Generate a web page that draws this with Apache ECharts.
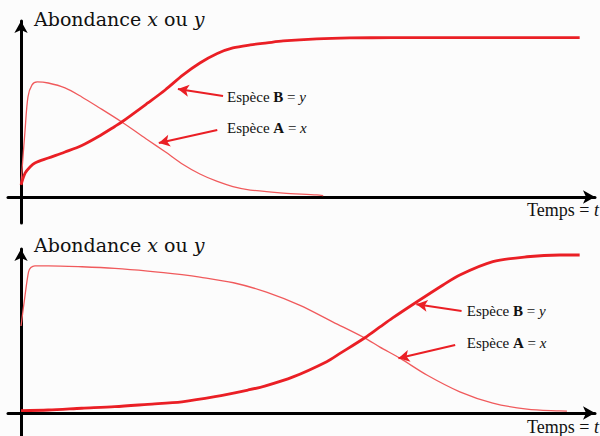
<!DOCTYPE html>
<html><head><meta charset="utf-8">
<script src="https://cdn.jsdelivr.net/npm/echarts@6/dist/echarts.min.js"></script>
<style>html,body{margin:0;padding:0;background:#fcfcfc}#c{width:600px;height:436px}</style>
</head><body><div id="c"></div>
<script>
// ---- Panneau du haut ----
const topTimeB = [0, 0.7, 1.55, 2.4, 4.7, 7.6, 10.5, 13.3, 16.2, 17.4, 21.9, 24.9, 28.0, 30.9, 33.9, 36.6, 39.6, 42.5, 45.3, 51.1, 56.8, 64.2, 96.5];
const topB     = [0.076, 0.151, 0.189, 0.215, 0.246, 0.284, 0.325, 0.380, 0.445, 0.473, 0.593, 0.675, 0.770, 0.845, 0.905, 0.940, 0.959, 0.972, 0.984, 0.997, 1.003, 1.005, 1.005];
const topTimeA = [0, 0.7, 1.2, 1.9, 2.8, 4.7, 7.6, 10.5, 13.3, 17.4, 21.9, 24.9, 28.0, 30.9, 33.9, 36.6, 39.6, 45.3, 51.1, 52.2];
const topA     = [0.088, 0.423, 0.631, 0.707, 0.726, 0.719, 0.688, 0.631, 0.568, 0.473, 0.360, 0.285, 0.205, 0.145, 0.098, 0.066, 0.044, 0.025, 0.013, 0.008];

// ---- Panneau du bas ----
const botTimeA = [0, 0.7, 1.3, 1.7, 2.4, 4.7, 10.5, 16.2, 21.9, 27.8, 30.9, 36.7, 42.4, 48.2, 53.9, 59.4, 62.0, 65.5, 70.1, 75.8, 81.5, 87.4, 93.1, 94.3];
const botA     = [0.549, 0.744, 0.891, 0.918, 0.929, 0.929, 0.923, 0.913, 0.896, 0.873, 0.858, 0.822, 0.763, 0.679, 0.574, 0.473, 0.416, 0.345, 0.240, 0.134, 0.063, 0.025, 0.013, 0.012];
const botTimeB = [0, 4.7, 10.5, 16.2, 21.9, 27.8, 33.5, 39.2, 42.1, 47.0, 52.8, 55.1, 59.4, 62.0, 64.2, 68.4, 72.9, 75.8, 81.5, 87.4, 93.1, 96.5];
const botB     = [0.015, 0.019, 0.030, 0.040, 0.055, 0.071, 0.103, 0.145, 0.170, 0.228, 0.324, 0.376, 0.475, 0.543, 0.600, 0.702, 0.808, 0.871, 0.955, 0.986, 0.997, 0.997];

// ---- Textes ----
const yTitle = '{n|Abondance }{i|x}{n| ou }{i|y}';
const xTitle = '{n|Temps = }{i|t}';
const labelB = '{n|Espèce }{b|B}{n| = }{i|y}';
const labelA = '{n|Espèce }{b|A}{n| = }{i|x}';

// ---- Annotations (coordonnées données: [t, valeur]) ----
const topArrowB = [[34.9, 0.637], [27.1, 0.681]];
const topArrowA = [[33.9, 0.423], [23.8, 0.341]];
const topTextB = [35.6, 0.631];
const topTextA = [35.6, 0.435];
const botArrowB = [[76.1, 0.644], [68.3, 0.686]];
const botArrowA = [[75.0, 0.429], [65.2, 0.345]];
const botTextB = [77.0, 0.644];
const botTextA = [77.0, 0.440];

const RED = '#ea1f25';
const RED_THIN = '#f05a5c';
const LIB = "'Liberation Serif'";
const DJV = "'DejaVu Serif'";

const zip = (xs, ys) => xs.map((x, i) => [x, ys[i]]);

function richStyle(size, fam) {
  return {
    n: {fontFamily: fam, fontSize: size, color: '#111'},
    i: {fontFamily: fam, fontSize: size, fontStyle: 'italic', color: '#111'},
    b: {fontFamily: fam, fontSize: size, fontWeight: 'bold', color: '#111'}
  };
}
function txtStyle(size, fam) {
  return {fontFamily: fam, fontSize: size, fontWeight: 'normal', color: '#111', rich: richStyle(size, fam)};
}

function xAx(gi) {
  return {
    type: 'value', gridIndex: gi, min: -2.25, max: 99.15,
    axisLine: {show: true, onZero: true, symbol: ['none', 'arrow'], symbolSize: [10, 12],
      lineStyle: {color: '#000', width: 3}},
    axisTick: {show: false}, axisLabel: {show: false}, splitLine: {show: false}
  };
}
function yAx(gi, min, max) {
  return {
    type: 'value', gridIndex: gi, min: min, max: max,
    axisLine: {show: true, onZero: true, symbol: ['none', 'arrow'], symbolSize: [10, 12],
      lineStyle: {color: '#000', width: 3}},
    axisTick: {show: false}, axisLabel: {show: false}, splitLine: {show: false}
  };
}
function arrowLine(a) {
  return [{coord: a[0]}, {coord: a[1]}];
}
function textPoint(p, txt) {
  return {coord: p, symbol: 'rect', symbolSize: 0,
    label: Object.assign({show: true, position: 'right', distance: 0, formatter: txt}, txtStyle(15, LIB))};
}
function curve(gi, data, thick, marks) {
  const s = {
    type: 'line', xAxisIndex: gi, yAxisIndex: gi, data: data, showSymbol: false,
    smooth: 0.3, silent: true, animation: false,
    lineStyle: {color: thick ? RED : RED_THIN, width: thick ? 2.8 : 1.3}
  };
  if (marks) {
    s.markLine = {silent: true, animation: false, symbol: ['none', 'arrow'], symbolSize: [9, 11],
      lineStyle: {type: 'solid', color: RED, width: 2}, label: {show: false},
      data: marks.lines.map(arrowLine)};
    s.markPoint = {silent: true, animation: false, data: marks.texts};
  }
  return s;
}

const chart = echarts.init(document.getElementById('c'), null, {renderer: 'svg'});
chart.setOption({
  backgroundColor: '#fcfcfc',
  animation: false,
  grid: [
    {left: 8, right: 5, top: 21, bottom: 213, outerBoundsMode: 'none'},
    {left: 8, right: 5, top: 249, bottom: 0, outerBoundsMode: 'none'}
  ],
  xAxis: [xAx(0), xAx(1)],
  yAxis: [yAx(0, -0.164, 1.110), yAx(1, -0.145, 1.035)],
  title: [
    {text: yTitle, left: 34, top: 9, padding: 0, textStyle: txtStyle(19, DJV)},
    {text: xTitle, right: 1, top: 201, padding: 0, textStyle: txtStyle(18, LIB)},
    {text: yTitle, left: 34, top: 235, padding: 0, textStyle: txtStyle(19, DJV)},
    {text: xTitle, right: 1, top: 418, padding: 0, textStyle: txtStyle(18, LIB)}
  ],
  series: [
    curve(0, zip(topTimeA, topA), false),
    curve(0, zip(topTimeB, topB), true, {
      lines: [topArrowB, topArrowA],
      texts: [textPoint(topTextB, labelB), textPoint(topTextA, labelA)]
    }),
    curve(1, zip(botTimeA, botA), false),
    curve(1, zip(botTimeB, botB), true, {
      lines: [botArrowB, botArrowA],
      texts: [textPoint(botTextB, labelB), textPoint(botTextA, labelA)]
    })
  ]
});
</script>
</body></html>
